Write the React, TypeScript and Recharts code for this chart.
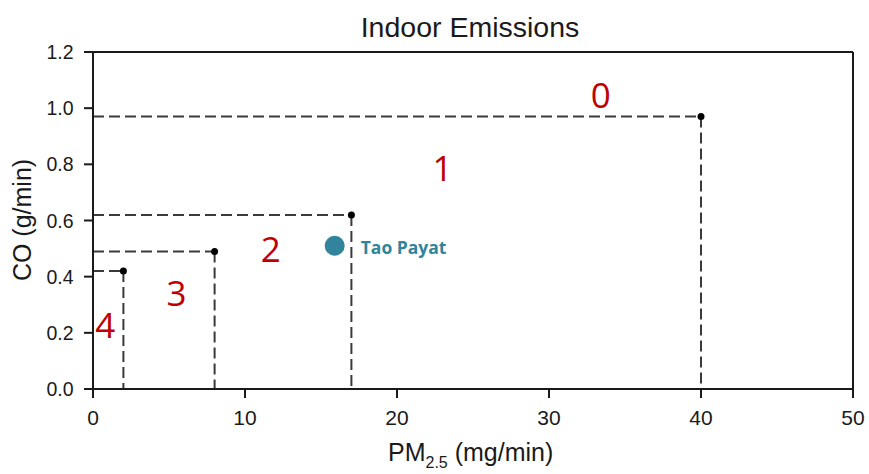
import React from 'react';
import { ScatterChart, Scatter, XAxis, YAxis, ReferenceLine, Customized } from 'recharts';

const thresholdPM = [2, 8, 17, 40];
const thresholdCO = [0.42, 0.49, 0.62, 0.97];
const zoneNames = ['0', '1', '2', '3', '4'];
const zonePM = [33.4, 23, 11.7, 5.5, 0.8];
const zoneCO = [1.05, 0.79, 0.5, 0.345, 0.23];
const stovePM = [15.9];
const stoveCO = [0.51];
const stoveNames = ['Tao Payat'];
const xTicks = [0, 10, 20, 30, 40, 50];
const yTicks = [0, 0.2, 0.4, 0.6, 0.8, 1.0, 1.2];

const thresholds = thresholdPM.map((x, i) => ({ x, y: thresholdCO[i] }));
const zones = zoneNames.map((name, i) => ({ x: zonePM[i], y: zoneCO[i], name }));
const stoves = stoveNames.map((name, i) => ({ x: stovePM[i], y: stoveCO[i], name }));

const FONT = '"Liberation Sans", Arial, sans-serif';
const TEAL = '#31849B';
const RED = '#C00000';
const DASH = '#3a3a3a';
const INK = '#1a1a1a';

const W = 869;
const H = 474;

const Title = () => (
  <g>
    <text x={470} y={37} textAnchor="middle" fontFamily={FONT} fontSize={28.5} fill={INK}>Indoor Emissions</text>
    <text x={388} y={461} textAnchor="start" fontFamily={FONT} fontSize={25} fill={INK}>
      PM<tspan fontSize={16} dy={7}>2.5</tspan><tspan dy={-7}> (mg/min)</tspan>
    </text>
    <text x={31} y={220} textAnchor="middle" fontFamily={FONT} fontSize={25} fill={INK} transform="rotate(-90 31 220)">CO (g/min)</text>
  </g>
);

const renderXTick = (props: any) => {
  const { x, y, payload } = props;
  return (
    <g>
      <text x={x} y={425} textAnchor="middle" fontFamily={FONT} fill={INK} style={{ fontSize: '21px', fontFamily: FONT }}>{String(payload.value)}</text>
    </g>
  );
};

const renderYTick = (props: any) => {
  const { y, payload } = props;
  return (
    <g>
      <text x={73.5} y={y + 7} textAnchor="end" fontFamily={FONT} fill={INK} style={{ fontSize: '19.5px', fontFamily: FONT }}>{Number(payload.value).toFixed(1)}</text>
    </g>
  );
};

const ZoneShape = (props: any) => {
  const { cx, cy, payload } = props;
  return (
    <text x={cx} y={cy} textAnchor="middle" dominantBaseline="central" fontFamily='"Open Sans", "Liberation Sans", sans-serif' fontSize={35} fill={RED}>{payload.name}</text>
  );
};

const StoveShape = (props: any) => {
  const { cx, cy, payload } = props;
  return (
    <g>
      <circle cx={cx} cy={cy} r={10} fill={TEAL} />
      <text x={cx + 26} y={cy + 1} dominantBaseline="central" fontFamily='"Open Sans", sans-serif' fontWeight="bold" fontSize={17.5} fill={TEAL}>{payload.name}</text>
    </g>
  );
};

const DotShape = (props: any) => {
  const { cx, cy } = props;
  return <circle cx={cx} cy={cy} r={3.5} fill="#000" />;
};

export default function App() {
  return (
    <div style={{ position: 'absolute', left: 0, top: 0, width: W, height: H, background: '#fff' }}>
      <ScatterChart width={W} height={H} margin={{ top: 52, right: 16, bottom: 55, left: 33 }}>
        <XAxis
          type="number"
          dataKey="x"
          domain={[0, 50]}
          ticks={xTicks}
          interval={0}
          height={30}
          tickSize={9}
          axisLine={{ stroke: INK, strokeWidth: 2 }}
          tickLine={{ stroke: INK, strokeWidth: 2 }}
          tick={renderXTick}
        />
        <YAxis
          type="number"
          dataKey="y"
          domain={[0, 1.2]}
          ticks={yTicks}
          interval={0}
          width={60}
          tickSize={9}
          axisLine={{ stroke: INK, strokeWidth: 2 }}
          tickLine={{ stroke: INK, strokeWidth: 2 }}
          tick={renderYTick}
        />
        <ReferenceLine y={1.2} stroke={INK} strokeWidth={2} />
        <ReferenceLine x={50} stroke={INK} strokeWidth={2} />
        {thresholds.map((t, i) => (
          <ReferenceLine
            key={'h' + i}
            segment={[{ x: 0, y: t.y }, { x: t.x, y: t.y }]}
            stroke={DASH}
            strokeWidth={2}
            strokeDasharray="11 5"
          />
        ))}
        {thresholds.map((t, i) => (
          <ReferenceLine
            key={'v' + i}
            segment={[{ x: t.x, y: t.y }, { x: t.x, y: 0 }]}
            stroke={DASH}
            strokeWidth={2}
            strokeDasharray="11 5"
          />
        ))}
        <Scatter data={thresholds} shape={DotShape} isAnimationActive={false} />
        <Scatter data={zones} shape={ZoneShape} isAnimationActive={false} />
        <Scatter data={stoves} shape={StoveShape} isAnimationActive={false} />
        <Customized component={Title} />
      </ScatterChart>
    </div>
  );
}
